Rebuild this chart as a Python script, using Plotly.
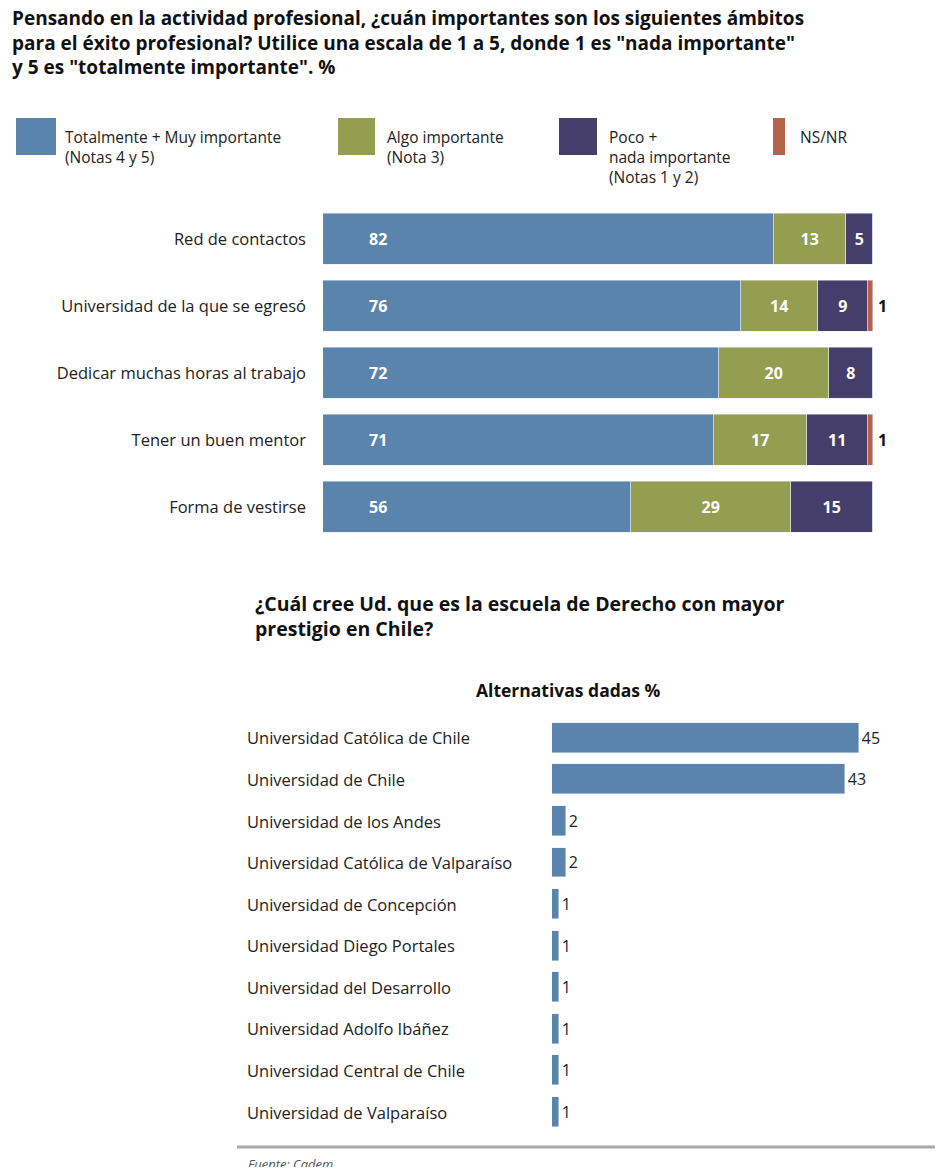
import plotly.graph_objects as go

W, H = 943, 1175
OFF = 8
FW, FH = W - 2 * OFF, H - 2 * OFF
def px(x): return (x - OFF) / FW
def py(y): return 1 - (y - OFF) / FH

# Top chart data
ambitos = ["Red de contactos", "Universidad de la que se egresó", "Dedicar muchas horas al trabajo",
           "Tener un buen mentor", "Forma de vestirse"]
muy_imp = [82, 76, 72, 71, 56]
algo_imp = [13, 14, 20, 17, 29]
poco_imp = [5, 9, 8, 11, 15]
nsnr = [0, 1, 0, 1, 0]
series_names = ["Totalmente + Muy importante<br>(Notas 4 y 5)", "Algo importante<br>(Nota 3)",
                "Poco +<br>nada importante<br>(Notas 1 y 2)", "NS/NR"]

# Bottom chart data
universidades = ["Universidad Católica de Chile", "Universidad de Chile", "Universidad de los Andes",
                 "Universidad Católica de Valparaíso", "Universidad de Concepción", "Universidad Diego Portales",
                 "Universidad del Desarrollo", "Universidad Adolfo Ibáñez", "Universidad Central de Chile",
                 "Universidad de Valparaíso"]
prestigio = [45, 43, 2, 2, 1, 1, 1, 1, 1, 1]

colors = ["#5b84ad", "#939e51", "#453e6b", "#b7624a"]
FONT = "Open Sans"

fig = go.Figure()
for i, (vals, c, name) in enumerate(zip([muy_imp, algo_imp, poco_imp, nsnr], colors, series_names)):
    txt = [str(v) if v and i in (1, 2) else "" for v in vals]
    fig.add_trace(go.Bar(y=ambitos, x=vals, orientation="h", marker_color=c, name=name,
                         width=0.75, text=txt, textposition="inside", insidetextanchor="middle",
                         textfont=dict(color="white", size=16, family=FONT), texttemplate="<b>%{text}</b>",
                         xaxis="x", yaxis="y", showlegend=False))

fig.add_trace(go.Bar(y=universidades, x=prestigio, orientation="h", marker_color=colors[0], width=0.72,
                     text=[str(v) for v in prestigio], textposition="outside",
                     textfont=dict(color="#222", size=16, family=FONT), cliponaxis=False,
                     xaxis="x2", yaxis="y2", showlegend=False))

annotations = []
for cat, v in zip(ambitos, muy_imp):
    annotations.append(dict(x=0, y=cat, xref="x", yref="y", text=f"<b>{v}</b>", showarrow=False,
                            xanchor="center", xshift=55, font=dict(size=16, color="white", family=FONT)))
for cat, v, tot in zip(ambitos, nsnr, [a + b + c for a, b, c in zip(muy_imp, algo_imp, poco_imp)]):
    if v:
        annotations.append(dict(x=tot + v, y=cat, xref="x", yref="y", text=f"<b>{v}</b>", showarrow=False,
                                xanchor="left", xshift=3, font=dict(size=16, color="#111", family=FONT)))

annotations += [
    dict(x=px(10), y=py(3), xref="paper", yref="paper", xanchor="left", yanchor="top", align="left",
         showarrow=False, font=dict(size=19, color="#111", family=FONT),
         text="<b>Pensando en la actividad profesional, ¿cuán importantes son los siguientes ámbitos<br>"
              "para el éxito profesional? Utilice una escala de 1 a 5, donde 1 es \"nada importante\"<br>"
              "y 5 es \"totalmente importante\". %</b>"),
    dict(x=px(253), y=py(588), xref="paper", yref="paper", xanchor="left", yanchor="top", align="left",
         showarrow=False, font=dict(size=19.5, color="#111", family=FONT),
         text="<b>¿Cuál cree Ud. que es la escuela de Derecho con mayor<br>prestigio en Chile?</b>"),
    dict(x=px(568), y=py(690), xref="paper", yref="paper", xanchor="center", yanchor="middle",
         showarrow=False, font=dict(size=17.5, color="#111", family=FONT), text="<b>Alternativas dadas %</b>"),
    dict(x=px(246), y=py(1164), xref="paper", yref="paper", xanchor="left", yanchor="middle",
         showarrow=False, font=dict(size=13, color="#555", family=FONT), text="<i>Fuente: Cadem</i>"),
]

shapes = []
legend_pos = [(16, 56, 63), (338, 375, 385), (559, 597, 607), (773, 785, 798)]
for (sx, ex, tx), c, name in zip(legend_pos, colors, series_names):
    shapes.append(dict(type="rect", xref="paper", yref="paper", x0=px(sx), x1=px(ex),
                       y0=py(155), y1=py(118), fillcolor=c, line_width=0))
    annotations.append(dict(x=px(tx), y=py(124), xref="paper", yref="paper", xanchor="left", yanchor="top",
                            align="left", showarrow=False, text=name,
                            font=dict(size=15.5, color="#222", family=FONT)))
shapes.append(dict(type="line", xref="paper", yref="paper", x0=px(237), x1=1, y0=py(1147), y1=py(1147),
                   line=dict(color="#aaa", width=3)))

fig.update_layout(
    width=FW, height=FH, margin=dict(l=0, r=0, t=0, b=0), barmode="stack", bargap=0,
    paper_bgcolor="white", plot_bgcolor="white", font=dict(family=FONT),
    xaxis=dict(domain=[px(323), px(873)], range=[0, 100], visible=False),
    yaxis=dict(domain=[py(540.5), py(205.5)], range=[4.5, -0.5], showgrid=False, zeroline=False,
               ticks="", ticklabelstandoff=16, tickfont=dict(size=16.5, color="#222", family=FONT)),
    xaxis2=dict(domain=[px(552), px(859)], range=[0, 45], visible=False),
    yaxis2=dict(domain=[py(1132.8), py(717.2)], range=[9.5, -0.5], showgrid=False, zeroline=False,
                ticks="", showticklabels=False, anchor="x2"),
    annotations=annotations, shapes=shapes,
)
for u in universidades:
    fig.add_annotation(x=px(245), y=u, xref="paper", yref="y2", xanchor="left", showarrow=False, text=u,
                       font=dict(size=16.5, color="#222", family=FONT))

fig.write_html("out.html")
